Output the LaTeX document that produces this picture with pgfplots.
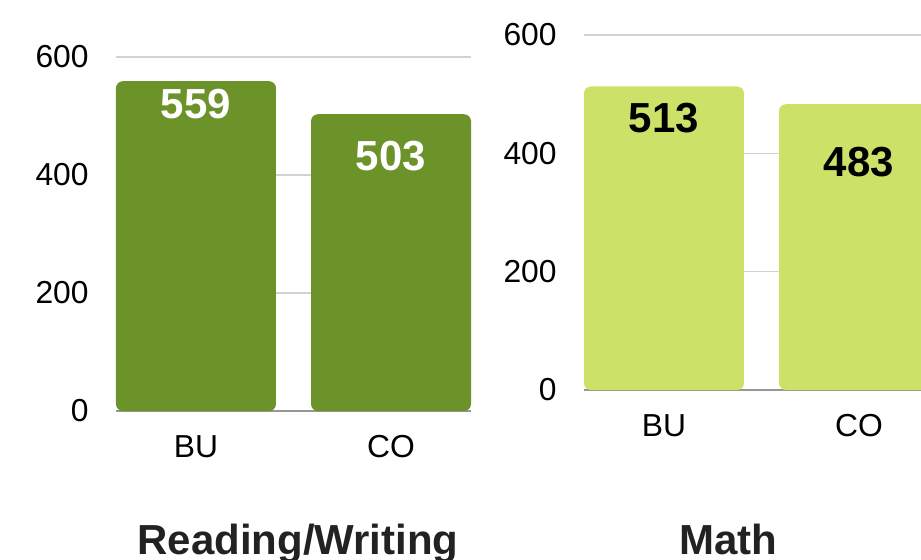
\documentclass[border=0pt]{standalone}
\usepackage{pgfplots}
\pgfplotsset{compat=1.18}
\usepackage{fontspec}
\setmainfont{Liberation Sans}
\definecolor{darkgreen}{RGB}{107,147,41}
\definecolor{lightgreen}{RGB}{203,225,104}
\definecolor{gridgray}{RGB}{210,210,210}
\definecolor{basegray}{RGB}{150,150,150}
\definecolor{titlegray}{RGB}{34,34,34}
\pgfplotsset{
  panel/.style={
    scale only axis,
    anchor=south west,
    width=177.5pt,
    ymin=0, ymax=600,
    ytick={0,200,400,600},
    xmin=-0.41, xmax=1.41,
    xtick={0,1},
    xticklabels={BU,CO},
    axis line style={draw=none},
    major tick length=0pt,
    ymajorgrids,
    grid style={color=gridgray, line width=0.6pt},
    extra y ticks={0},
    extra y tick labels={},
    extra y tick style={grid style={color=basegray, line width=0.6pt}},
    /pgf/number format/assume math mode=true,
    ticklabel style={font=\fontsize{15.9}{18}\selectfont, text=black},
    yticklabel style={anchor=east, inner sep=0pt, xshift=-13.5pt},
    xticklabel style={anchor=north, inner sep=0pt, yshift=-12pt},
    clip=false,
  }
}
\begin{document}
\begin{tikzpicture}
\useasboundingbox (0,0) rectangle (460.5pt,279.5pt);
\clip (0,0) rectangle (460.5pt,279.5pt);
\begin{axis}[panel, at={(58pt,74pt)}, height=177pt]
\addplot[ybar, fill=darkgreen, draw=none, bar width=0.8205, rounded corners=3.5pt]
  coordinates {(0,559) (1,503)};
\node[font=\bfseries\fontsize{21}{24}\selectfont, text=white] at (axis cs:0,519.5) {559};
\node[font=\bfseries\fontsize{21}{24}\selectfont, text=white] at (axis cs:1,432) {503};
\end{axis}
\begin{axis}[panel, at={(292pt,84.5pt)}, height=177.5pt]
\addplot[ybar, fill=lightgreen, draw=none, bar width=0.8205, rounded corners=3.5pt]
  coordinates {(0,513) (1,483)};
\node[font=\bfseries\fontsize{21}{24}\selectfont, text=black] at (axis cs:0,460) {513};
\node[font=\bfseries\fontsize{21}{24}\selectfont, text=black] at (axis cs:1,385) {483};
\end{axis}
\node[anchor=base, font=\bfseries\fontsize{21}{24}\selectfont, text=titlegray] at (149pt,2.5pt) {Reading/Writing};
\node[anchor=base, font=\bfseries\fontsize{21}{24}\selectfont, text=titlegray] at (364.25pt,2.5pt) {Math};
\end{tikzpicture}
\end{document}
